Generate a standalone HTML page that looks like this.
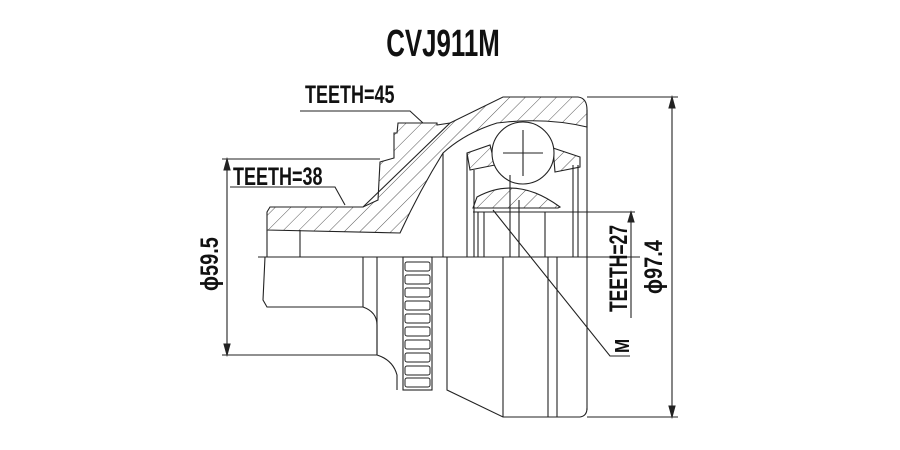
<!DOCTYPE html>
<html><head><meta charset="utf-8"><style>
html,body{margin:0;padding:0;background:#fff;width:900px;height:450px;overflow:hidden}
svg{display:block}
text{font-family:"Liberation Sans",sans-serif;font-weight:bold;fill:#111}
</style></head><body>
<svg width="900" height="450" viewBox="0 0 900 450" xmlns="http://www.w3.org/2000/svg">
<defs>
<pattern id="h" patternUnits="userSpaceOnUse" width="11" height="11" patternTransform="rotate(45)">
<rect width="11" height="11" fill="#fff"/><line x1="0" y1="0" x2="0" y2="11" stroke="#444" stroke-width="0.9"/>
</pattern>
</defs>
<text x="443" y="56" font-size="38" text-anchor="middle" transform="translate(443 0) scale(0.68 1) translate(-443 0)">CVJ911M</text>
<g stroke="#222" stroke-width="1.1" fill="none">
<line x1="258" y1="257" x2="640" y2="257"/>
<path d="M267,212 L270,207 L363,207 L378,200 L380,162 L394,158 L394,133 L397,133 L398,123 L437,123 L437,125 L450,123 L503,97 L578,97 Q587,98 587,110 L587,127 Q545,117 497,123 Q465,133 443,153 Q420,190 400,233 L267,230 Z" fill="url(#h)"/>
<path d="M363,207 L450,123"/>
<path d="M467,153 L490,145 L495,165 L470,170 Z" fill="url(#h)"/>
<path d="M553,148 L580,157 L580,167 L555,172 Z" fill="url(#h)"/>
<path d="M477,197 Q517,175 560,207 L558,208 L473,208 Z" fill="url(#h)"/>
<line x1="473" y1="212" x2="635" y2="212"/>
<circle cx="523" cy="153" r="31" fill="#fff"/>
<line x1="503" y1="153" x2="543" y2="153"/><line x1="523" y1="130" x2="523" y2="176"/>
<line x1="443" y1="153" x2="443" y2="257"/><line x1="467" y1="153" x2="467" y2="257"/>
<line x1="474" y1="170" x2="474" y2="257"/><line x1="478" y1="212" x2="478" y2="257"/>
<line x1="484" y1="212" x2="484" y2="257"/><line x1="510" y1="175" x2="510" y2="257"/>
<line x1="519" y1="200" x2="519" y2="257"/><line x1="545" y1="212" x2="545" y2="257"/>
<line x1="573" y1="165" x2="573" y2="257"/><line x1="578" y1="165" x2="578" y2="257"/>
<line x1="587" y1="110" x2="587" y2="410"/>
<path d="M267,230 L267,257 M265,257 L263,300 L267,307 L363,307 L363,257"/>
<line x1="300" y1="230" x2="300" y2="257"/>
<path d="M363,307 Q377,312 377,325 L377,355 Q393,360 397,375 L397,390"/>
<line x1="377" y1="257" x2="377" y2="355"/>
<rect x="403" y="257" width="29" height="133"/>
<g stroke-width="1">
<rect x="405" y="262" width="25" height="9" rx="2"/><rect x="405" y="275" width="25" height="9" rx="2"/>
<rect x="405" y="288" width="25" height="9" rx="2"/><rect x="405" y="301" width="25" height="9" rx="2"/>
<rect x="405" y="314" width="25" height="9" rx="2"/><rect x="405" y="327" width="25" height="9" rx="2"/>
<rect x="405" y="340" width="25" height="9" rx="2"/><rect x="405" y="353" width="25" height="9" rx="2"/>
<rect x="405" y="366" width="25" height="9" rx="2"/><rect x="405" y="378" width="25" height="9" rx="2"/>
</g>
<path d="M447,257 L447,390 L503,417 L580,417 Q587,416 587,408"/>
<line x1="503" y1="257" x2="503" y2="417"/>
<line x1="548" y1="257" x2="548" y2="417"/><line x1="557" y1="257" x2="557" y2="417"/>
<line x1="222" y1="159" x2="380" y2="159"/><line x1="222" y1="355" x2="377" y2="355"/>
<line x1="227" y1="162" x2="227" y2="352"/>
<path d="M227,159 L224,170 L230,170 Z M227,355 L224,344 L230,344 Z" fill="#222"/>
<line x1="587" y1="97" x2="678" y2="97"/><line x1="587" y1="417" x2="678" y2="417"/>
<line x1="672" y1="100" x2="672" y2="414"/>
<path d="M672,97 L669,108 L675,108 Z M672,417 L669,406 L675,406 Z" fill="#222"/>
<line x1="631" y1="214" x2="631" y2="318"/>
<path d="M631,212 L628,222 L634,222 Z" fill="#222"/>
<path d="M300,111 L410,111 L423,123"/>
<path d="M230,187 L335,187 L345,205"/>
<path d="M493,210 L610,356 L630,356"/>
</g>
<text x="305" y="103" font-size="25" transform="translate(305 0) scale(0.72 1) translate(-305 0)">TEETH=45</text>
<text x="233" y="185" font-size="25" transform="translate(233 0) scale(0.72 1) translate(-233 0)">TEETH=38</text>
<text transform="translate(627 312) rotate(-90) scale(0.7 1)" font-size="25">TEETH=27</text>
<text transform="translate(662 294) rotate(-90) scale(0.8 1)" font-size="25">ϕ97.4</text>
<text transform="translate(218 291) rotate(-90) scale(0.8 1)" font-size="25">ϕ59.5</text>
<text transform="translate(629 353) rotate(-90) scale(0.85 1)" font-size="20">M</text>
</svg>
</body></html>
